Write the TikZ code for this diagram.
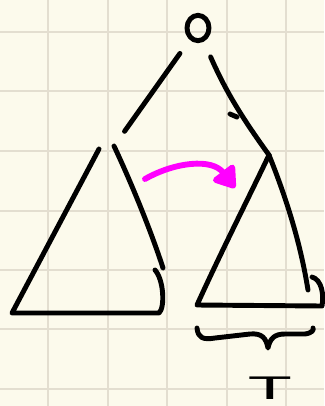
\documentclass[tikz,border=0pt]{standalone}
\usepackage{fontspec}
\newfontfamily\handfont{Liberation Sans}
\usetikzlibrary{shapes.geometric,arrows.meta}
\definecolor{paper}{HTML}{FCFAEC}
\definecolor{gridline}{HTML}{E3DED0}
\definecolor{pen}{HTML}{FF00FF}

\begin{document}
\begin{tikzpicture}[x=0.03cm,y=-0.03cm,
    inkline/.style={line width=4.2pt,line cap=round,line join=round},
    moveline/.style={line width=5pt,line cap=round,pen,
        -{Triangle[length=0.7cm,width=0.9cm,round]}}]
    % paper and grid
    \fill[paper] (0,0) rectangle (324,406);
    \useasboundingbox (0,0) rectangle (324,406);
    \foreach \gx in {48,108,167,227,286}
        \draw[gridline,line width=1.6pt] (\gx,0) -- (\gx,406);
    \foreach \gy in {32,91,151,211,270,329,389}
        \draw[gridline,line width=1.6pt] (0,\gy) -- (324,\gy);

    % root and the two subtrees
    \node[draw,ellipse,inkline,inner sep=0pt,minimum width=0.66cm,
        minimum height=0.76cm] (root) at (198,28) {};
    \coordinate (ltop) at (112,149);
    \coordinate (rtop) at (269,155);
    \draw[inkline,shorten <=0.5cm,shorten >=0.65cm] (root) -- (ltop);
    \draw[inkline,shorten <=0.5cm] (root) to[bend right=6] (rtop);
    \draw[inkline] (230,114) -- (237,117);

    % left subtree
    \draw[inkline] (99,149) -- (12,313) -- (159,313)
        .. controls (165,308) and (164,280) .. (155,270);
    \draw[inkline] (114,146) .. controls (130,180) and (150,228) .. (163,268);

    % right subtree
    \draw[inkline] (rtop) .. controls (250,195) and (222,250) .. (197,305)
        -- (322,306) .. controls (324,295) and (322,280) .. (312,277);
    \draw[inkline] (rtop) .. controls (285,195) and (300,240) .. (308,290);

    % moving the subtree
    \coordinate (movefrom) at (145,179);
    \coordinate (moveto) at (235,188);
    \draw[moveline] (movefrom) .. controls (175,162) and (212,158) .. (moveto);

    % brace and label
    \draw[inkline] (197,328) .. controls (198,338) and (203,340) .. (215,338)
        -- (250,334) .. controls (262,333) and (266,338) .. (268,348)
        .. controls (270,338) and (275,334) .. (285,334)
        -- (305,334) .. controls (312,333) and (314,330) .. (313,328);
    \node[anchor=base,inner sep=0pt,xscale=2.2] (tlabel) at (270,399)
        {\handfont\fontsize{28}{28}\selectfont T};
\end{tikzpicture}
\end{document}
